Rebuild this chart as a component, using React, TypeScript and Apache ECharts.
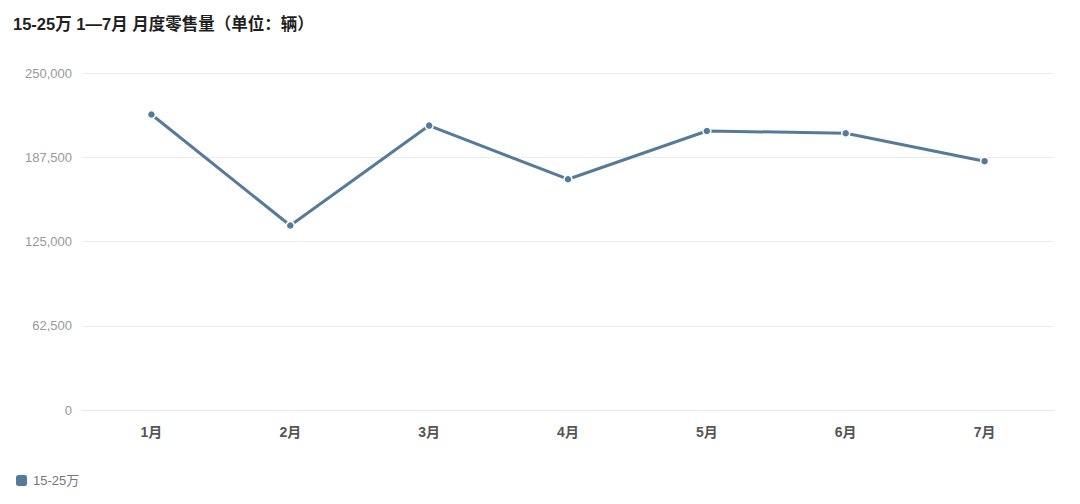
import { useEffect, useRef } from 'react';
import * as echarts from 'echarts';

const months = ['1月', '2月', '3月', '4月', '5月', '6月', '7月'];
const sales = [219200, 136900, 211000, 171200, 207000, 205300, 184600];
const seriesName = '15-25万';
const lineColor = '#557a9a';

export default function App() {
  const chartRef = useRef<HTMLDivElement>(null);

  useEffect(() => {
    document.body.style.margin = '0';
    if (!chartRef.current) return;
    const chart = echarts.init(chartRef.current, undefined, { renderer: 'svg' });
    chart.setOption({
      animation: false,
      textStyle: { fontFamily: '"Liberation Sans", "Noto Sans CJK SC", sans-serif' },
      title: {
        text: '15-25万 1—7月 月度零售量（单位：辆）',
        left: 8,
        top: 11,
        textStyle: { fontSize: 16.5, fontWeight: 'bold', color: '#1f1f1f' },
      },
      legend: {
        left: 9,
        bottom: 11,
        icon: 'roundRect',
        itemWidth: 13,
        itemHeight: 13,
        itemGap: 6,
        textStyle: { fontSize: 13, color: '#777' },
        data: [seriesName],
      },
      grid: { left: 82, right: 26, top: 73, bottom: 94 },
      xAxis: {
        type: 'category',
        data: months,
        boundaryGap: true,
        axisLine: { show: true, lineStyle: { color: '#e6e6e6' } },
        axisTick: { show: false },
        axisLabel: { fontSize: 14, fontWeight: 'bold', color: '#555', margin: 15 },
      },
      yAxis: {
        type: 'value',
        min: 0,
        max: 250000,
        interval: 62500,
        axisLine: { show: false },
        axisTick: { show: false },
        splitLine: { lineStyle: { color: '#ececec' } },
        axisLabel: {
          fontSize: 13,
          color: '#999',
          margin: 10,
          formatter: (v: number) => v.toLocaleString('en-US'),
        },
      },
      series: [
        {
          name: seriesName,
          type: 'line',
          data: sales,
          symbol: 'circle',
          symbolSize: 8,
          itemStyle: { color: lineColor, borderColor: '#fff', borderWidth: 1.5 },
          lineStyle: { color: lineColor, width: 3 },
        },
      ],
    });
    return () => chart.dispose();
  }, []);

  return <div ref={chartRef} style={{ width: 1080, height: 504 }} />;
}
